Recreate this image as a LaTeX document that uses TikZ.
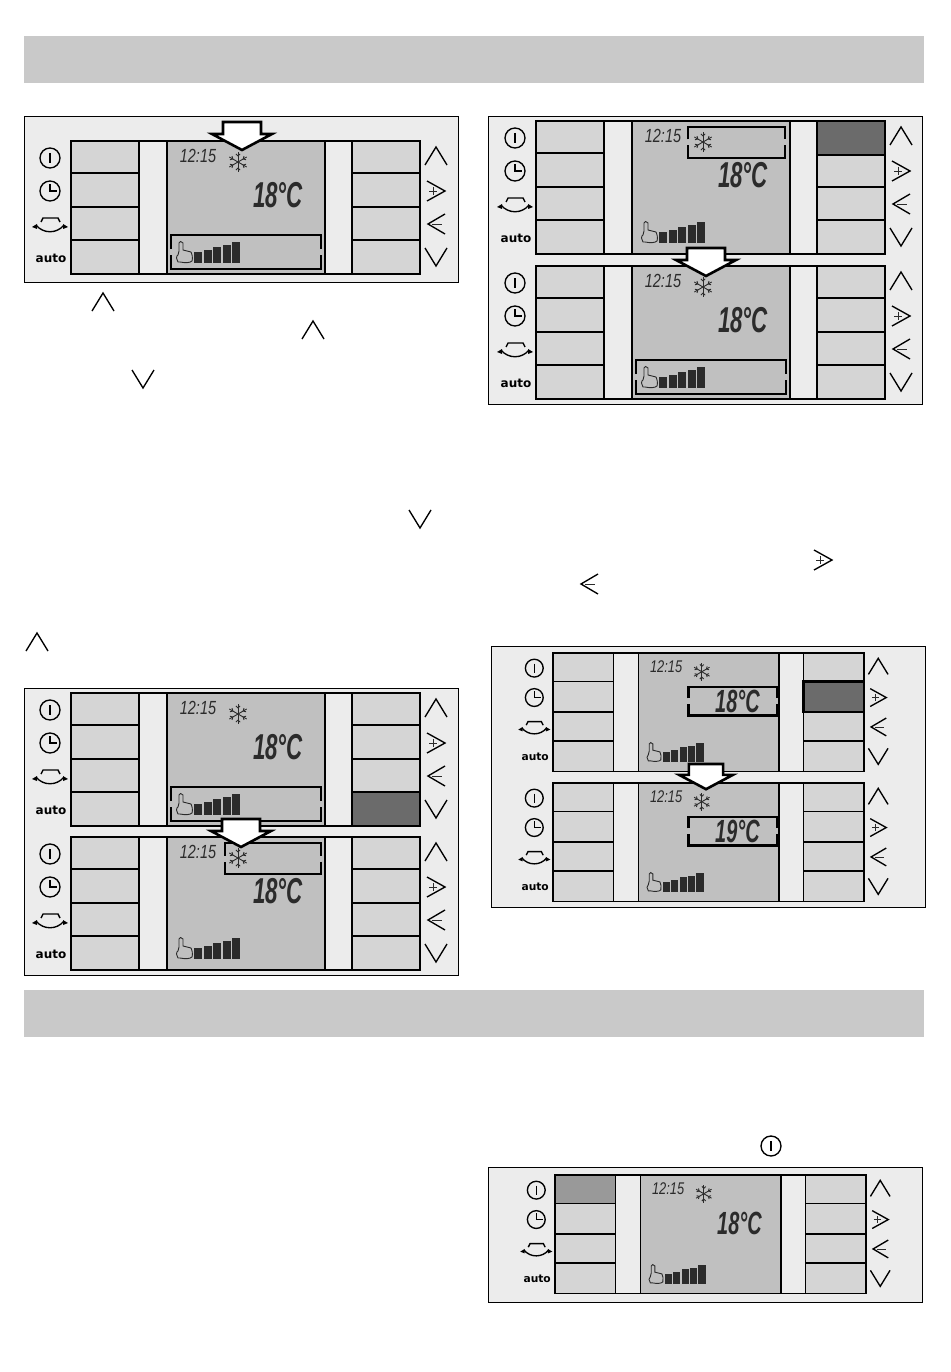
\documentclass[tikz,border=0pt]{standalone}
\usepackage{fontspec}
\setsansfont{Liberation Sans}
\newfontfamily\autofont{DejaVu Sans}
\usetikzlibrary{positioning}

\definecolor{barcol}{HTML}{C9C9C9}
\definecolor{framecol}{HTML}{ECECEC}
\definecolor{keycol}{HTML}{D5D5D5}
\definecolor{lcdcol}{HTML}{C0C0C0}
\definecolor{inkcol}{HTML}{2B2B2B}

\tikzset{
    panel/.style n args={3}{shift={(#1,#2)}, x=#3pt, y=-#3pt, /utils/exec={\def\ps{#3}}},
    outerframe/.style={draw=black, line width=1pt, fill=framecol},
    keyline/.style={draw=black, line width=1.7pt},
    iconline/.style={draw=black, line width=1.35pt},
    thinline/.style={draw=inkcol, line width=0.9pt},
    selframe/.style={draw=black, line width=2.3pt},
    bigarrow/.style={draw=black, line width=2.6pt, fill=white, line join=miter},
    chev up/.pic={\draw[iconline] (-11,9) -- (0,-9) -- (11,9);},
    chev down/.pic={\draw[iconline] (-11,-9) -- (0,9) -- (11,-9);},
    chev plus/.pic={\draw[iconline] (-9,-10) -- (9,0) -- (-9,10);
        \draw[thinline] (-7,0) -- (1,0) (-3,-4) -- (-3,4);},
    chev minus/.pic={\draw[iconline] (9,-10) -- (-8,0) -- (9,10);
        \draw[thinline] (-4,0) -- (6,0);},
    power/.pic={\draw[iconline] (0,0) circle (10);
        \draw[iconline] (0,-5) -- (0,5);},
    clock/.pic={\draw[iconline] (0,0) circle (10);
        \draw[iconline] (0,-7) -- (0,0) -- (7,0);},
    aircurve/.pic={\draw[iconline] (-9,-3) -- (-7,-7) -- (8,-7) -- (10,-3);
        \draw[iconline] (-14,0) .. controls (-7,9) and (7,9) .. (14,0);
        \fill (-18,2) -- (-13,-1) -- (-13,4) -- cycle;
        \fill (18,2) -- (13,-1) -- (13,4) -- cycle;},
    snowflake/.pic={
        \foreach \a in {30,90,150,210,270,330}{
            \draw[thinline] (0,0) -- (\a:10);
            \draw[thinline] (\a:6) -- ++(\a+45:3) (\a:6) -- ++(\a-45:3);
        }},
    handicon/.pic={\draw[thinline] (-3,-1) -- (-4,3) .. controls (-6,4) and (-6,8) .. (-4,10)
        -- (-2,10) .. controls (3,11) and (8,11) .. (10,9) .. controls (11,6) and (10,2) .. (9,0)
        -- (1,-2) -- (1,-9) .. controls (0,-11) and (-3,-11) .. (-3,-9) -- cycle;},
}

% one display with keys, icons and readings
\newcommand{\hvacpanel}[2]{
    \fill[framecol] (0,0) rectangle (349,133);
    \fill[keycol] (0,0) rectangle (68,133);
    \fill[keycol] (281,0) rectangle (349,133);
    \fill[lcdcol] (96,0) rectangle (254,133);
    \draw[keyline] (0,0) rectangle (349,133);
    \foreach \kx in {68,96,254,281}
        \draw[keyline] (\kx,0) -- (\kx,133);
    \foreach \ky in {32,66,99}{
        \draw[keyline] (0,\ky) -- (68,\ky);
        \draw[keyline] (281,\ky) -- (349,\ky);
    }
    % icons left
    \pic at (-21,17) {power};
    \pic at (-21,50) {clock};
    \pic at (-21,84) {aircurve};
    \node[font=\autofont\bfseries\fontsize{12}{12}\selectfont, scale=\ps, inner sep=0pt] (#1auto) at (-20,117) {auto};
    % icons right
    \pic at (365,15) {chev up};
    \pic at (365,50) {chev plus};
    \pic at (365,83) {chev minus};
    \pic at (365,116) {chev down};
    % readings
    \node[font=\sffamily\itshape\fontsize{19}{19}\selectfont, text=inkcol, xscale=.76*\ps, yscale=\ps, inner sep=0pt] (#1time) at (127,15) {12:15};
    \pic at (167,21) {snowflake};
    \node[font=\sffamily\bfseries\itshape\fontsize{36}{36}\selectfont, text=inkcol, xscale=.62*\ps, yscale=\ps, inner sep=0pt] (#1temp) at (207,54) {#2°C};
    \pic at (111,111) {handicon};
    \foreach \i/\h in {0/11,1/13,2/16,3/18,4/21}
        \fill[inkcol] (123+\i*9.5,122) rectangle (131+\i*9.5,122-\h);
}

% a marked area whose sides open in the middle
\newcommand{\hvacsel}[4]{
    \pgfmathsetmacro{\ymid}{(#2+#4)/2}
    \draw[selframe] (#1,\ymid-3) -- (#1,#2) -- (#3,#2) -- (#3,\ymid-3);
    \draw[selframe] (#3,\ymid+3) -- (#3,#4) -- (#1,#4) -- (#1,\ymid+3);
}
\newcommand{\hvacfan}{\hvacsel{100}{94}{250}{128}}
\newcommand{\hvacmode}{\hvacsel{152}{6}{249}{37}}
\newcommand{\hvactemp}{\hvacsel{152}{38}{251}{70}}

% arrow between the steps
\newcommand{\hvacarrow}[3][1]{
    \begin{scope}[shift={(#2,#3)}, x=#1pt, y=-#1pt]
        \draw[bigarrow] (-19,0) -- (19,0) -- (19,12) -- (30,12) -- (0,28) -- (-30,12) -- (-19,12) -- cycle;
    \end{scope}
}

\begin{document}
\begin{tikzpicture}[x=1pt, y=-1pt]
    \useasboundingbox (0,0) rectangle (950,1372);

    % Title bars
    \fill[barcol] (24,36) rectangle (924,83);
    \fill[barcol] (24,990) rectangle (924,1037);

    % First step
    \draw[outerframe] (24,117) rectangle (458,282);
    \begin{scope}[panel={71}{141}{1}]
        \hvacpanel{one}{18}
        \hvacfan
    \end{scope}
    \hvacarrow{242}{122}

    % Second step
    \draw[outerframe] (488,117) rectangle (922,404);
    \begin{scope}[panel={536}{121}{1}]
        \hvacpanel{twoa}{18}
        \hvacmode
        \draw[keyline, line width=2.4pt, fill=black!58] (281,0) rectangle (349,34);
    \end{scope}
    \begin{scope}[panel={536}{266}{1}]
        \hvacpanel{twob}{18}
        \hvacfan
    \end{scope}
    \hvacarrow{706}{248}

    % Third step
    \draw[outerframe] (24,688) rectangle (458,975);
    \begin{scope}[panel={71}{693}{1}]
        \hvacpanel{threea}{18}
        \hvacfan
        \draw[keyline, line width=2.4pt, fill=black!58] (281,99) rectangle (349,133);
    \end{scope}
    \begin{scope}[panel={71}{837}{1}]
        \hvacpanel{threeb}{18}
        \hvacsel{154}{6}{250}{37}
    \end{scope}
    \hvacarrow{241}{819}

    % Fourth step
    \draw[outerframe] (491,646) rectangle (925,907);
    \begin{scope}[panel={553}{653}{.891}]
        \hvacpanel{foura}{18}
        \hvactemp
        \draw[keyline, line width=2.4pt, fill=black!58] (281,32) rectangle (349,66);
    \end{scope}
    \begin{scope}[panel={553}{783}{.891}]
        \hvacpanel{fourb}{19}
        \hvactemp
    \end{scope}
    \hvacarrow[.9]{706}{764}

    % Last step
    \draw[outerframe] (488,1167) rectangle (922,1302);
    \begin{scope}[panel={555}{1175}{.891}]
        \hvacpanel{five}{18}
        \draw[keyline, fill=black!40] (0,0) rectangle (68,32);
    \end{scope}

    % Symbols in the running text
    \pic at (103,302) {chev up};
    \pic at (313,330) {chev up};
    \pic at (143,379) {chev down};
    \pic at (420,519) {chev down};
    \pic at (37,642) {chev up};
    \pic at (823,560) {chev plus};
    \pic at (589,584) {chev minus};
    \pic at (771,1146) {power};
\end{tikzpicture}
\end{document}
